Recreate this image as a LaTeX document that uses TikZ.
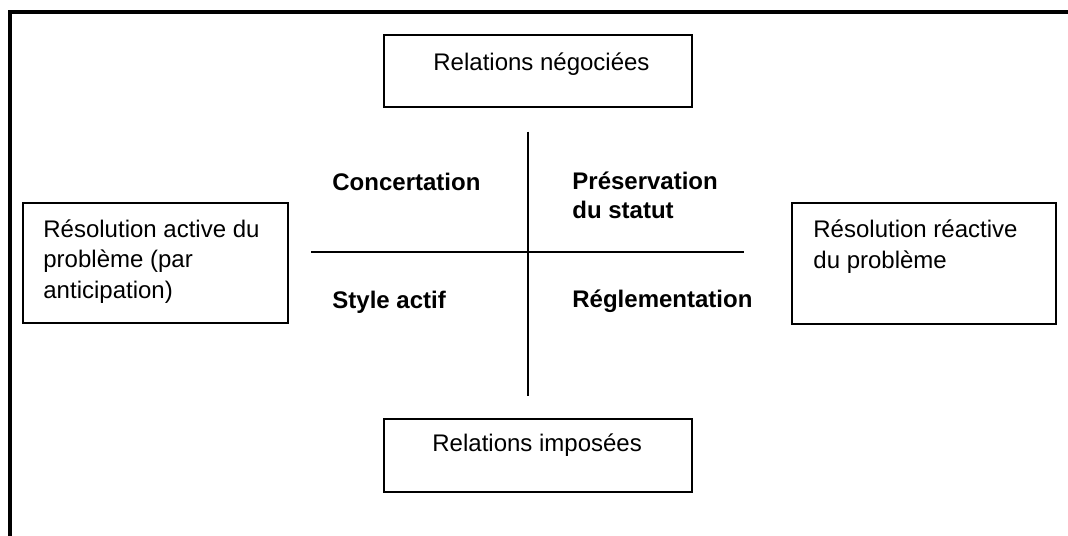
\documentclass[tikz,border=0pt]{standalone}
\usepackage{fontspec}
\setmainfont{Liberation Sans}
\usetikzlibrary{positioning}
\tikzset{
	% box style
	box/.style={
		rectangle,
		draw=black, line width=1pt,
		inner sep=0pt
	},
	% text inside the boxes (base = last line)
	boxtext/.style={
		anchor=base west,
		inner sep=0pt,
		align=left,
		font=\fontsize{12}{15.2}\selectfont
	},
	% quadrant labels
	quad/.style={
		anchor=base west,
		inner sep=0pt,
		align=left,
		font=\fontsize{12}{14.2}\selectfont\bfseries
	},
	% axis style
	axis/.style={
		line width=1pt
	},
	% frame style
	frame/.style={
		line width=2pt,
		line join=miter
	}
}

\begin{document}
\begin{tikzpicture}[x=0.5pt, y=-0.5pt]
	\useasboundingbox (0,0) rectangle (1068,535);

	% outer frame
	\coordinate (fsw) at (10,545);
	\coordinate (fnw) at (10,12);
	\coordinate (fne) at (1080,12);
	\draw[frame] (fsw) -- (fnw) -- (fne);

	\node[box,minimum width=154pt,minimum height=36pt] (nego) at (538,71) {};
	\node[box,minimum width=154pt,minimum height=36.5pt] (impose) at (538,455.5) {};
	\node[box,minimum width=132.5pt,minimum height=60pt] (active) at (155.5,263) {};
	\node[box,minimum width=132pt,minimum height=60.5pt] (reactive) at (924,263.5) {};

	\node[boxtext] (negotxt) at (433,70) {Relations négociées};
	\node[boxtext] (imposetxt) at (432,451) {Relations imposées};
	\node[boxtext] (activetxt) at (43,298)
		{Résolution active du \\ problème (par \\ anticipation)};
	\node[boxtext] (reactivetxt) at (813,268)
		{Résolution réactive \\ du problème};

	% axes
	\coordinate (axn) at (527.7,131.7);
	\coordinate (axs) at (527.7,396);
	\coordinate (axw) at (311,251.7);
	\coordinate (axe) at (744.3,251.7);
	\draw[axis] (axn) -- (axs);
	\draw[axis] (axw) -- (axe);

	\node[quad] (concert) at (332,190) {Concertation};
	\node[quad] (preserv) at (572,218) {Préservation \\ du statut};
	\node[quad] (styleact) at (332,308) {Style actif};
	\node[quad] (regle) at (572,307) {Réglementation};
\end{tikzpicture}
\end{document}
